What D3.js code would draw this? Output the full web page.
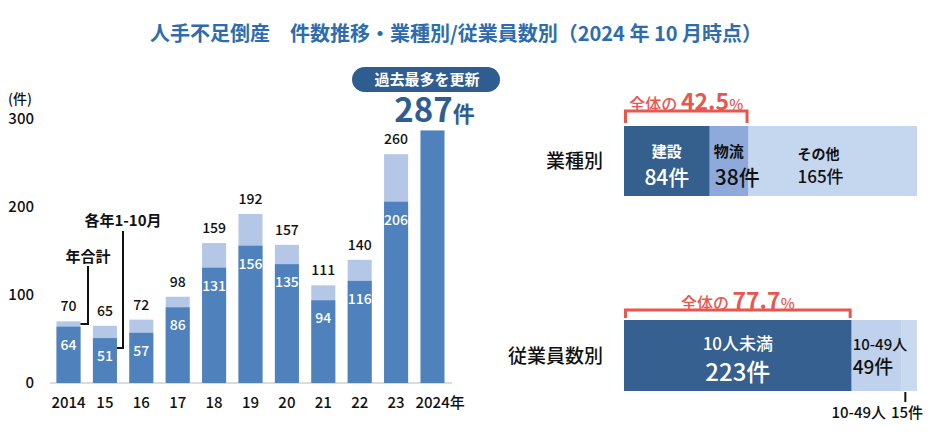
<!DOCTYPE html>
<html><head><meta charset="utf-8">
<script src="https://cdn.jsdelivr.net/npm/d3@7/dist/d3.min.js"></script>
<style>
html,body{margin:0;padding:0;background:#fff;}
svg{display:block;font-family:"Noto Sans CJK JP","Noto Sans",sans-serif;}
</style></head>
<body>
<svg id="c" width="934" height="438"></svg>
<script>
// ---- data ----
const years = ["2014","15","16","17","18","19","20","21","22","23","2024年"];
const janOct = [64,51,57,86,131,156,135,94,116,206,287];
const yearTotal = [70,65,72,98,159,192,157,111,140,260,null];
const yTicks = [0,100,200,300];
const industryCats = ["建設","物流","その他"];
const industryVals = [84,38,165];
const employeeCats = ["10人未満","10-49人","10-49人"];
const employeeVals = [223,49,15];
const titleText = "人手不足倒産　件数推移・業種別/従業員数別（2024 年 10 月時点）";

const svg = d3.select("#c");
const C = {dark:"#4f81bd", light:"#b4c7e7", navy:"#2f5d8f", red:"#e8574f", title:"#2e6cae"};

// title
svg.append("text").attr("x",456).attr("y",41).attr("text-anchor","middle")
  .attr("font-size",20).attr("font-weight",700).attr("fill",C.title).text(titleText);

// ---- left bar chart ----
const x = d3.scaleBand().domain(years).range([50.5,450.5]).paddingInner(0.34).paddingOuter(0.165);
const y = d3.scaleLinear().domain([0,300]).range([383,119]);

const gx = svg.append("g").attr("transform","translate(0,383)")
  .call(d3.axisBottom(x).tickSize(0).tickPadding(14));
gx.select(".domain").attr("stroke","#d0d0d0").attr("stroke-width",1.5).attr("d","M50,0H452");
gx.selectAll("text").attr("font-size",15).attr("font-weight",500).attr("fill","#111")
  .attr("font-family","'Noto Sans CJK JP',sans-serif");
gx.selectAll(".tick").filter(d=>d==="2024年").select("text")
  .attr("text-anchor","start").attr("x",-17);

const gy = svg.append("g").attr("transform","translate(34,0)")
  .call(d3.axisLeft(y).tickValues(yTicks).tickSize(0).tickPadding(0));
gy.select(".domain").remove();
gy.selectAll("text").attr("font-size",15).attr("font-weight",500).attr("fill","#111")
  .attr("font-family","'Noto Sans CJK JP',sans-serif");
svg.append("text").attr("x",8).attr("y",104).attr("font-size",14).attr("font-weight",500).attr("fill","#111").text("(件)");

const bars = years.map((yr,i)=>({yr, a:janOct[i], t:yearTotal[i]}));
svg.append("g").selectAll("rect.tot").data(bars.filter(d=>d.t!=null)).join("rect")
  .attr("x",d=>x(d.yr)).attr("width",x.bandwidth())
  .attr("y",d=>y(d.t)).attr("height",d=>y(0)-y(d.t)).attr("fill",C.light);
svg.append("g").selectAll("rect.a").data(bars).join("rect")
  .attr("x",d=>x(d.yr)).attr("width",x.bandwidth())
  .attr("y",d=>y(d.a)).attr("height",d=>y(0)-y(d.a)).attr("fill",C.dark);
svg.append("g").selectAll("text").data(bars.filter(d=>d.t!=null)).join("text")
  .attr("x",d=>x(d.yr)+x.bandwidth()/2).attr("y",d=>y(d.t)-10)
  .attr("text-anchor","middle").attr("font-size",14).attr("font-weight",500).attr("fill","#111")
  .text(d=>d.t);
svg.append("g").selectAll("text").data(bars.filter(d=>d.t!=null)).join("text")
  .attr("x",d=>x(d.yr)+x.bandwidth()/2).attr("y",d=>y(d.a)+23)
  .attr("text-anchor","middle").attr("font-size",14).attr("font-weight",500).attr("fill","#fff")
  .text(d=>d.a);

// annotations
const cx0 = x(years[0])+x.bandwidth(), cx1 = x(years[1])+x.bandwidth();
svg.append("text").attr("x",88).attr("y",262).attr("text-anchor","middle")
  .attr("font-size",15).attr("font-weight",700).attr("fill","#111").text("年合計");
svg.append("path").attr("fill","none").attr("stroke","#111").attr("stroke-width",2)
  .attr("d",`M88,266V${(y(janOct[0])+y(yearTotal[0]))/2}H${cx0}`);
svg.append("text").attr("x",123).attr("y",226).attr("text-anchor","middle")
  .attr("font-size",15).attr("font-weight",700).attr("fill","#111").text("各年1-10月");
svg.append("path").attr("fill","none").attr("stroke","#111").attr("stroke-width",2)
  .attr("d",`M123,231V${y(janOct[1])+10}H${cx1}`);

// badge + 287
svg.append("rect").attr("x",352).attr("y",67).attr("width",148).attr("height",25).attr("rx",12.5).attr("fill",C.navy);
svg.append("text").attr("x",427).attr("y",85).attr("text-anchor","middle")
  .attr("font-size",15).attr("font-weight",700).attr("fill","#fff").text("過去最多を更新");
const last = bars[bars.length-1];
const big = svg.append("text").attr("x",x(last.yr)+x.bandwidth()/2+2).attr("y",122).attr("text-anchor","middle").attr("fill",C.navy);
big.append("tspan").attr("font-size",33).attr("font-weight",700).text(last.a);
big.append("tspan").attr("font-size",22).attr("font-weight",700).text("件");

// ---- right stacked bars ----
const xs = d3.scaleLinear().domain([0,d3.sum(industryVals)]).range([624,917]);
function segs(vals){let c=0;return vals.map(v=>{const s={x0:c,x1:c+v,v};c+=v;return s;});}

// industry
const ind = segs(industryVals);
const indColors = ["#355f8d","#8eaadb","#c5d6ef"];
svg.append("g").selectAll("rect").data(ind).join("rect")
  .attr("x",d=>xs(d.x0)).attr("width",d=>xs(d.x1)-xs(d.x0))
  .attr("y",126).attr("height",70).attr("fill",(d,i)=>indColors[i]);
svg.append("text").attr("x",603).attr("y",168).attr("text-anchor","end")
  .attr("font-size",19).attr("font-weight",500).attr("fill","#111").text("業種別");
// labels
svg.append("text").attr("x",(xs(ind[0].x0)+xs(ind[0].x1))/2).attr("y",157).attr("text-anchor","middle")
  .attr("font-size",15).attr("font-weight",700).attr("fill","#fff").text(industryCats[0]);
svg.append("text").attr("x",(xs(ind[0].x0)+xs(ind[0].x1))/2).attr("y",185).attr("text-anchor","middle")
  .attr("font-size",21).attr("font-weight",500).attr("fill","#fff").text(industryVals[0]+"件");
svg.append("text").attr("x",xs(ind[1].x0)+4).attr("y",157)
  .attr("font-size",15).attr("font-weight",700).attr("fill","#111").text(industryCats[1]);
svg.append("text").attr("x",xs(ind[1].x0)+5).attr("y",185)
  .attr("font-size",21).attr("font-weight",500).attr("fill","#111").text(industryVals[1]+"件");
svg.append("text").attr("x",xs(ind[2].x0)+49).attr("y",159)
  .attr("font-size",14).attr("font-weight",700).attr("fill","#111").text(industryCats[2]);
svg.append("text").attr("x",xs(ind[2].x0)+49).attr("y",183)
  .attr("font-size",17).attr("font-weight",500).attr("fill","#111").text(industryVals[2]+"件");

function bracket(x0,x1,top,bot,pct){
  svg.append("path").attr("fill","none").attr("stroke",C.red).attr("stroke-width",3)
    .attr("d",`M${x0+1.5},${bot}V${top}H${x1-1.5}V${bot}`);
  const t = svg.append("text").attr("x",(x0+x1)/2).attr("y",top-1).attr("text-anchor","middle").attr("fill",C.red);
  t.append("tspan").attr("font-size",16).attr("font-weight",500).text("全体の ");
  t.append("tspan").attr("font-size",23).attr("font-weight",700).text(pct);
  t.append("tspan").attr("font-size",15).attr("font-weight",500).text("%");
}
bracket(xs(0),xs(industryVals[0]+industryVals[1]),111,123,
  ((industryVals[0]+industryVals[1])/d3.sum(industryVals)*100).toFixed(1));

// employees
const emp = segs(employeeVals);
const empColors = ["#35608f","#bfd1ec","#c9d9f0"];
svg.append("g").selectAll("rect").data(emp).join("rect")
  .attr("x",d=>xs(d.x0)).attr("width",d=>xs(d.x1)-xs(d.x0))
  .attr("y",320).attr("height",71).attr("fill",(d,i)=>empColors[i]);
svg.append("text").attr("x",603).attr("y",363).attr("text-anchor","end")
  .attr("font-size",19).attr("font-weight",500).attr("fill","#111").text("従業員数別");
svg.append("text").attr("x",(xs(emp[0].x0)+xs(emp[0].x1))/2).attr("y",350).attr("text-anchor","middle")
  .attr("font-size",17).attr("font-weight",500).attr("fill","#fff").text(employeeCats[0]);
svg.append("text").attr("x",(xs(emp[0].x0)+xs(emp[0].x1))/2).attr("y",381).attr("text-anchor","middle")
  .attr("font-size",24).attr("font-weight",500).attr("fill","#fff").text(employeeVals[0]+"件");
svg.append("text").attr("x",xs(emp[1].x0)+1).attr("y",350)
  .attr("font-size",15).attr("font-weight",500).attr("fill","#111").text(employeeCats[1]);
svg.append("text").attr("x",xs(emp[1].x0)+1).attr("y",374)
  .attr("font-size",19).attr("font-weight",500).attr("fill","#111").text(employeeVals[1]+"件");
const tx = (xs(emp[2].x0)+xs(emp[2].x1))/2 - 4;
svg.append("path").attr("stroke","#111").attr("stroke-width",2).attr("d",`M${tx},392V402`);
svg.append("text").attr("x",886).attr("y",418).attr("text-anchor","end")
  .attr("font-size",15).attr("font-weight",500).attr("fill","#111").text(employeeCats[2]);
svg.append("text").attr("x",891).attr("y",418)
  .attr("font-size",15).attr("font-weight",500).attr("fill","#111").text(employeeVals[2]+"件");

bracket(xs(0),xs(employeeVals[0]),310,318,(employeeVals[0]/d3.sum(employeeVals)*100).toFixed(1));
</script>
</body></html>
